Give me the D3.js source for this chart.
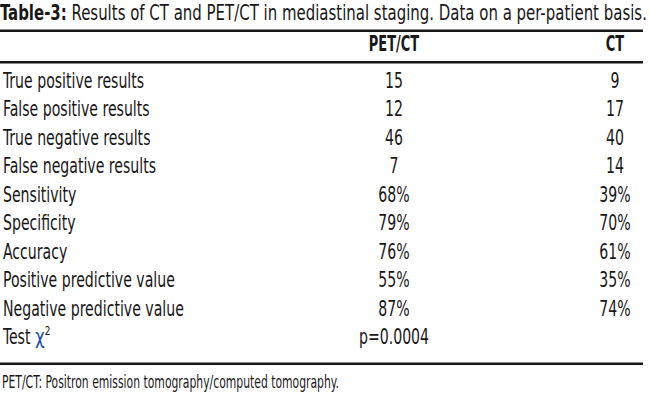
<!DOCTYPE html>
<html>
<head>
<meta charset="utf-8">
<script src="https://cdn.jsdelivr.net/npm/d3@7"></script>
<style>
  body { margin: 0; background: #fff; }
  text { font-family: "Liberation Sans Narrow", "DejaVu Sans Condensed", "Liberation Sans", sans-serif; fill: #1a1718; }
</style>
</head>
<body>
<svg id="tbl" width="650" height="401"></svg>
<script>
// table contents
var titleBold = "Table-3:";
var titleText = " Results of CT and PET/CT in mediastinal staging. Data on a per-patient basis.";
var columns = ["", "PET/CT", "CT"];
var rows = ["True positive results", "False positive results", "True negative results",
  "False negative results", "Sensitivity", "Specificity", "Accuracy",
  "Positive predictive value", "Negative predictive value", "Test"];
var petct = ["15", "12", "46", "7", "68%", "79%", "76%", "55%", "87%", "p=0.0004"];
var ct = ["9", "17", "40", "14", "39%", "70%", "61%", "35%", "74%", ""];
var footnote = "PET/CT: Positron emission tomography/computed tomography.";

var svg = d3.select("#tbl");
var ruleRight = 643, fs = 20.5;

// horizontal squeeze so the font matches the condensed original
var probe = svg.append("text").attr("font-size", fs).text("Negative predictive value");
var k = 181 / probe.node().getComputedTextLength();
probe.remove();

var y = d3.scalePoint().domain(d3.range(rows.length)).range([87.5, 344]);
var x = d3.scaleOrdinal().domain(columns).range([3, 394, 615]);

function put(g, tx, ty, sx) {
  return g.attr("transform", "translate(" + tx + "," + ty + ") scale(" + sx + ",1)");
}

// title
var title = svg.append("text").attr("font-size", 21);
title.append("tspan").attr("font-weight", "bold").text("Table-3:");
title.append("tspan").text(titleText);
var tk = 647 / title.node().getComputedTextLength();
put(title, 0, 19.5, tk);

// rules
function rule(yy) {
  svg.append("rect").attr("x", 0).attr("y", yy).attr("width", ruleRight).attr("height", 2.5).attr("fill", "#1a1718");
}
rule(29.5);
rule(61);
rule(362.5);

// header
svg.selectAll("text.head").data(columns.slice(1)).enter().append("text")
  .attr("class", "head")
  .attr("font-size", fs)
  .attr("font-weight", "bold")
  .attr("text-anchor", "middle")
  .each(function(d) { put(d3.select(this), x(d), 50.5, k * 0.92); })
  .text(function(d) { return d; });

// body rows
var row = svg.selectAll("g.row").data(rows).enter().append("g").attr("class", "row");
row.append("text")
  .attr("font-size", fs)
  .each(function(d, i) { put(d3.select(this), x(""), y(i), k); })
  .text(function(d) { return d; });

row.append("text")
  .attr("font-size", fs)
  .attr("text-anchor", "middle")
  .each(function(d, i) { put(d3.select(this), x("PET/CT"), y(i), k); })
  .text(function(d, i) { return petct[i]; });

row.append("text")
  .attr("font-size", fs)
  .attr("text-anchor", "middle")
  .each(function(d, i) { put(d3.select(this), x("CT"), y(i), k); })
  .text(function(d, i) { return ct[i]; });

// chi-square symbol after "Test"
var last = row.filter(function(d, i) { return i === rows.length - 1; }).select("text");
last.append("tspan").text(" ");
last.append("tspan").attr("font-family", "DejaVu Sans, sans-serif").attr("font-size", 22).attr("fill", "#1d4fa0").text("χ");
last.append("tspan").attr("font-size", 13).attr("dy", -9).text("2");

// footnote
var fn = svg.append("text").attr("font-size", 17).text(footnote);
put(fn, 2, 388, 337 / fn.node().getComputedTextLength());
</script>
</body>
</html>
